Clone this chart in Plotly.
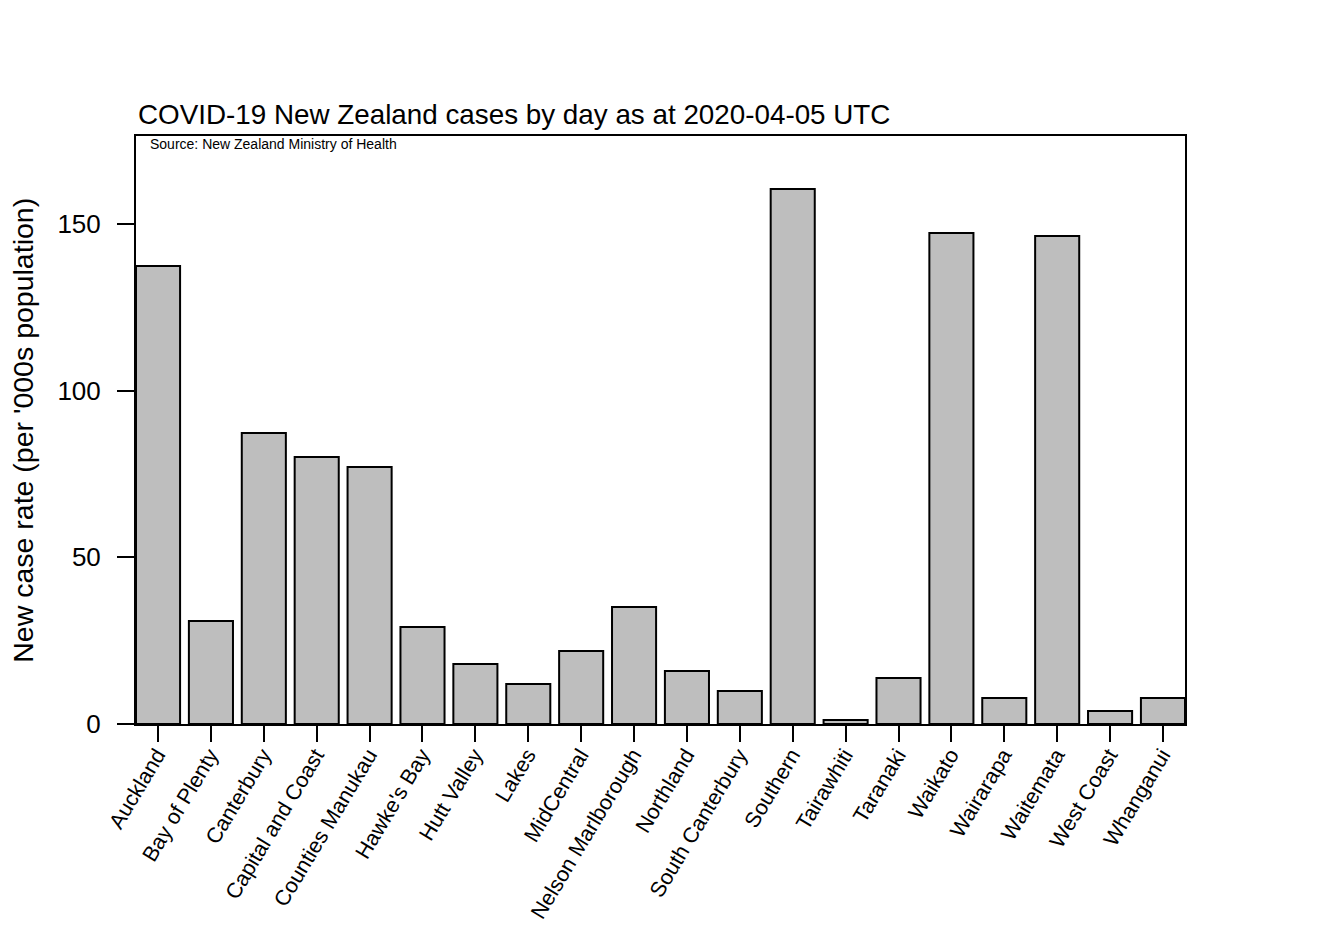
import plotly.graph_objects as go

# District health boards and new case rate
dhbs = ["Auckland", "Bay of Plenty", "Canterbury", "Capital and Coast",
        "Counties Manukau", "Hawke's Bay", "Hutt Valley", "Lakes", "MidCentral",
        "Nelson Marlborough", "Northland", "South Canterbury", "Southern",
        "Tairawhiti", "Taranaki", "Waikato", "Wairarapa", "Waitemata",
        "West Coast", "Whanganui"]
rates = [137.4, 30.9, 87.3, 80.1, 77.1, 29.1, 18.0, 12.0, 21.9,
         35.1, 15.9, 9.9, 160.5, 1.2, 13.8, 147.3, 7.8, 146.4,
         3.9, 7.8]
y_ticks = [0, 50, 100, 150]

FONT = "Liberation Sans, Arial, sans-serif"

fig = go.Figure()
fig.add_trace(go.Bar(
    x=dhbs, y=rates,
    marker=dict(color="#bebebe", line=dict(color="black", width=2)),
    showlegend=False,
))

fig.update_layout(
    width=1322, height=935,
    margin=dict(l=128, r=145, t=128, b=219),
    paper_bgcolor="white", plot_bgcolor="white",
    bargap=1 / 6,
    font=dict(family=FONT, color="black"),
)

fig.update_xaxes(
    range=[-0.4167, len(dhbs) - 1 + 0.4167],
    automargin=False,
    showline=True, linecolor="black", linewidth=2, mirror=True,
    ticks="outside", ticklen=16, tickwidth=2, tickcolor="black",
    tickangle=-59, tickfont=dict(size=21.5, family=FONT),
    ticklabelstandoff=-8, ticklabelshift=-1,
    showgrid=False, zeroline=False,
)
fig.update_yaxes(
    range=[0, 176.4],
    tickvals=y_ticks,
    automargin=False,
    showline=True, linecolor="black", linewidth=2, mirror=True,
    ticks="outside", ticklen=17, tickwidth=2, tickcolor="black",
    tickfont=dict(size=26, family=FONT), ticklabelstandoff=11,
    showgrid=False, zeroline=False,
)

# title sits just above the plot box, left aligned with it
fig.add_annotation(
    text="COVID-19 New Zealand cases by day as at 2020-04-05 UTC",
    xref="paper", yref="paper", x=0, y=1.037,
    xanchor="left", yanchor="middle", showarrow=False,
    font=dict(size=27.8, family=FONT, color="black"),
)
fig.add_annotation(
    text="New case rate (per '000s population)",
    xref="paper", yref="paper", x=-0.108, y=0.5,
    xanchor="center", yanchor="middle", textangle=-90, showarrow=False,
    font=dict(size=28.5, family=FONT, color="black"),
)
fig.add_annotation(
    text="Source: New Zealand Ministry of Health",
    xref="paper", yref="paper", x=0.011, y=0.986,
    xanchor="left", yanchor="middle", showarrow=False,
    font=dict(size=14, family=FONT, color="black"),
)

fig.write_html("out.html")
